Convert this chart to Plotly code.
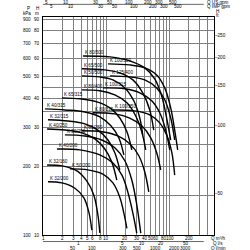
import math
import plotly.graph_objects as go

# ---------------- data ----------------
curve_names = ["K 80/500", "K 100/500", "K 65/500", "K 50/500", "K 125/400",
               "K 100/315", "K 80/400", "K 65/315", "K 40/315", "K 80/315",
               "K 100/250", "K 32/315", "K 40/250", "K 65/250", "K 50/250",
               "K 40/200", "K 32/160", "K 50/200", "K 32/200"]
curve_q = [
    [4.27, 11.4, 23.4, 40.4, 58.0, 74.7, 89.5, 103.7],
    [10.6, 23.4, 40.4, 62.3, 83.4, 103.7, 119.8, 133.6],
    [4.11, 9.47, 16.3, 26.2, 37.5, 48.4, 55.9],
    [4.11, 7.90, 12.7, 19.6, 27.1, 33.7, 37.5],
    [11.4, 23.4, 40.4, 62.3, 83.4, 103.7, 119.8],
    [8.81, 19.6, 33.7, 52.0, 69.6, 86.4, 100.0],
    [4.11, 7.90, 13.6, 21.1, 29.1, 36.2, 41.8],
    [1.99, 3.83, 7.08, 11.4, 16.3, 21.1, 25.2],
    [1.08, 2.22, 4.58, 7.90, 11.8, 15.7, 18.9],
    [6.12, 13.6, 23.4, 36.2, 50.2, 62.3, 72.1],
    [12.7, 28.1, 48.4, 69.6, 89.5, 107.5, 119.8],
    [1.20, 2.48, 4.58, 7.34, 10.6, 13.6, 16.3],
    [1.16, 2.22, 4.11, 6.59, 9.47, 12.2, 14.6],
    [4.11, 8.49, 15.2, 23.4, 32.5, 40.4, 46.7],
    [2.22, 4.58, 8.49, 13.6, 19.6, 25.2, 30.2, 34.9],
    [1.66, 3.83, 7.90, 12.7, 17.6, 21.8, 26.2, 30.2],
    [1.16, 1.99, 3.43, 4.93, 6.35, 7.34, 7.90],
    [2.66, 5.11, 8.81, 12.7, 16.3, 18.9, 21.1],
    [1.20, 1.99, 3.19, 4.42, 5.30, 5.90],
]
curve_h = [
    [61.9, 61.3, 58.9, 54.8, 49.0, 41.2, 32.9, 26.3],
    [57.1, 56.5, 54.8, 51.0, 44.7, 36.5, 29.1, 23.8],
    [54.3, 53.7, 52.1, 48.5, 42.5, 35.7, 29.1],
    [50.5, 50.0, 48.5, 44.7, 39.2, 32.9, 27.7],
    [50.5, 50.0, 48.5, 44.7, 39.6, 32.9, 26.3],
    [44.7, 44.3, 42.5, 39.2, 34.7, 29.1, 23.8],
    [43.8, 43.4, 41.6, 38.4, 33.6, 28.6, 23.8],
    [40.4, 40.0, 38.8, 36.5, 32.9, 28.6, 23.8],
    [36.1, 35.7, 35.0, 33.3, 30.4, 26.9, 22.6],
    [34.7, 34.3, 32.9, 30.4, 26.9, 23.1, 19.4],
    [35.7, 35.4, 34.0, 31.3, 27.7, 23.3, 18.4],
    [32.3, 31.9, 31.0, 29.1, 26.3, 23.1, 19.4],
    [29.4, 29.1, 28.3, 26.6, 24.0, 21.0, 17.5],
    [28.9, 28.6, 27.4, 25.3, 22.4, 19.0, 15.5],
    [27.7, 27.4, 26.3, 24.3, 21.3, 17.5, 13.6, 10.2],
    [24.0, 23.8, 22.6, 20.8, 18.4, 15.5, 12.5, 10.2],
    [20.4, 20.2, 19.2, 17.3, 15.0, 12.3, 10.2],
    [19.6, 19.4, 18.6, 17.0, 14.7, 12.5, 10.7],
    [17.2, 17.0, 16.1, 14.6, 12.6, 10.5],
]

q_m3h_ticks = [1, 2, 3, 4, 5, 6, 8, 10, 20, 30, 40, 50, 60, 80, 100, 200]
q_ls_ticks = [1, 5, 10, 20, 50]
q_lmin_ticks = [50, 100, 300, 500, 1000, 2000, 3000]
q_usgpm_ticks = [5, 10, 30, 50, 100, 200, 300, 500]
q_impgpm_ticks = [5, 10, 30, 50, 100, 200, 300, 500]
h_m_ticks = [10, 20, 30, 40, 50, 60, 70, 80, 90]
p_kpa_ticks = [100, 200, 300, 400, 500, 600, 700, 800, 900]
h_ft_ticks = [50, 100, 150, 200, 250]
grid_q = [1, 2, 3, 4, 5, 6, 7, 8, 9, 10, 20, 30, 40, 50, 60, 70, 80, 90, 100, 200, 300, 400, 500]
grid_h = [10, 15, 20, 25, 30, 35, 40, 45, 50, 60, 70, 80, 90]

LS = 3.6          # m3/h per l/s
LMIN = 0.06       # m3/h per l/min
USGPM = 0.22712   # m3/h per US gpm
IMPGPM = 0.27277  # m3/h per IMP gpm
FT = 0.3048       # m per ft
KPA = 0.1         # m per kPa (chart scale)

Q_MAX = 500
H_MIN, H_MAX = 10, 92

FONT = "Liberation Sans"
FS = 4.6

fig = go.Figure()
for name, qs, hs in zip(curve_names, curve_q, curve_h):
    fig.add_trace(go.Scatter(x=qs, y=hs, mode="lines", name=name,
                             line=dict(color="black", width=1.4, shape="spline", smoothing=1.0),
                             hoverinfo="skip", showlegend=False))

ann = []
def txt(**kw):
    kw.setdefault("showarrow", False)
    kw.setdefault("font", dict(size=FS, family=FONT, color="black"))
    ann.append(kw)

# curve labels
for name, qs, hs in zip(curve_names, curve_q, curve_h):
    txt(x=math.log10(qs[0]), y=math.log10(hs[0]), xref="x", yref="y", text=name,
        xanchor="left", yanchor="bottom", yshift=-1)

# left axis labels
for h, p in zip(h_m_ticks, p_kpa_ticks):
    txt(x=0, y=math.log10(h), xref="paper", yref="y", text=str(h), xanchor="right", xshift=-1)
    txt(x=0, y=math.log10(p * KPA), xref="paper", yref="y", text=str(p), xanchor="right", xshift=-10)
txt(x=0, y=1, xref="paper", yref="paper", text="P", xanchor="right", yanchor="middle", xshift=-11, yshift=9)
txt(x=0, y=1, xref="paper", yref="paper", text="kPa", xanchor="right", yanchor="middle", xshift=-10, yshift=4)
txt(x=0, y=1, xref="paper", yref="paper", text="H", xanchor="right", yanchor="middle", xshift=-2, yshift=9)
txt(x=0, y=1, xref="paper", yref="paper", text="m", xanchor="right", yanchor="middle", xshift=-2, yshift=4)

# right axis labels (ft)
for f in h_ft_ticks:
    txt(x=1, y=math.log10(f * FT), xref="paper", yref="y", text="–" + str(f), xanchor="left", xshift=-1)
txt(x=1, y=1, xref="paper", yref="paper", text="H", xanchor="left", yanchor="middle", xshift=0, yshift=5.5)
txt(x=1, y=1, xref="paper", yref="paper", text="ft", xanchor="left", yanchor="middle", xshift=0, yshift=1.5)

def bottom_row(vals, factor, yshift, unit):
    for v in vals:
        txt(x=math.log10(v * factor), y=0, xref="x", yref="paper", text=str(v),
            yanchor="middle", yshift=yshift)
    txt(x=1, y=0, xref="paper", yref="paper", text=unit, xanchor="center",
        yanchor="middle", yshift=yshift, xshift=4)

bottom_row(q_m3h_ticks, 1, -3.5, "Q m³/h")
bottom_row(q_ls_ticks, LS, -8.5, "Q l/s")
bottom_row(q_lmin_ticks, LMIN, -13, "Q l/min")

def top_row(vals, factor, yshift, unit):
    for v in vals:
        txt(x=math.log10(v * factor), y=1, xref="x", yref="paper", text=str(v),
            yanchor="middle", yshift=yshift)
    txt(x=1, y=1, xref="paper", yref="paper", text=unit, xanchor="center",
        yanchor="middle", yshift=yshift, xshift=4)

top_row(q_usgpm_ticks, USGPM, 14.5, "Q US gpm")
top_row(q_impgpm_ticks, IMPGPM, 10.2, "Q IMP gpm")

shapes = []
# bottom l/s axis line and top gpm axis line
shapes.append(dict(type="line", xref="paper", yref="paper", x0=0, x1=0.94,
                   y0=-0.03, y1=-0.03, line=dict(color="black", width=0.6)))
shapes.append(dict(type="line", xref="paper", yref="paper", x0=0, x1=0.94,
                   y0=1.058, y1=1.058, line=dict(color="black", width=0.6)))

fig.update_layout(
    width=250, height=250,
    margin=dict(l=43, r=36, t=17, b=15, autoexpand=False),
    paper_bgcolor="white", plot_bgcolor="white",
    annotations=ann, shapes=shapes,
    xaxis=dict(type="log", range=[0, math.log10(Q_MAX)], tickvals=grid_q,
               showticklabels=False, showgrid=True, gridcolor="#808080", gridwidth=0.8,
               showline=True, linecolor="black", linewidth=1, mirror=True, ticks="",
               zeroline=False),
    yaxis=dict(type="log", range=[math.log10(H_MIN), math.log10(H_MAX)], tickvals=grid_h,
               showticklabels=False, showgrid=True, gridcolor="#808080", gridwidth=0.8,
               showline=True, linecolor="black", linewidth=1, mirror=True, ticks="",
               zeroline=False),
)

fig.write_html("out.html")
